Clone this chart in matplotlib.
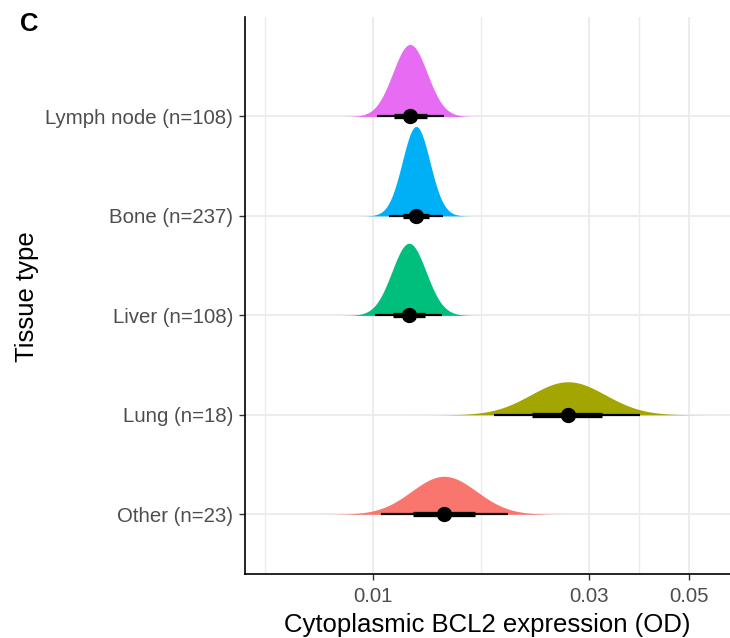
import numpy as np
import matplotlib
matplotlib.use("Agg")
import matplotlib.pyplot as plt

plt.rcParams['font.family'] = ['Liberation Sans', 'DejaVu Sans']

# Data (bottom to top)
tissues = ["Other", "Lung", "Liver", "Bone", "Lymph node"]
n_cases = [23, 18, 108, 237, 108]
medians = [0.01435, 0.02696, 0.01201, 0.01245, 0.01207]
lo66 = [0.01226, 0.02245, 0.01107, 0.01165, 0.01113]
hi66 = [0.01680, 0.03206, 0.01303, 0.01330, 0.01316]
lo95 = [0.01041, 0.01850, 0.01010, 0.01085, 0.01020]
hi95 = [0.01987, 0.03888, 0.01420, 0.01428, 0.01435]
colors = ["#F8766D", "#A3A500", "#00BF7D", "#00B0F6", "#E76BF3"]
xticks = [0.01, 0.03, 0.05]
xticklabels = ["0.01", "0.03", "0.05"]
minor_grid = [0.00577, 0.01732, 0.03873]

fig = plt.figure(figsize=(7.30, 6.38), dpi=100)
ax = fig.add_axes([245/730, 1-574/638, (730-245)/730, (574-17)/638])
ax.set_xscale('log')
ax.set_xlim(10**(-2.2827), 10**(-1.2114))
ax.set_ylim(0.4, 6.0)

# grid
for g in minor_grid:
    ax.axvline(g, color='#EBEBEB', lw=1.0, zorder=0)
for g in xticks:
    ax.axvline(g, color='#EBEBEB', lw=1.3, zorder=0)
for i in range(len(tissues)):
    ax.axhline(i + 1, color='#EBEBEB', lw=1.3, zorder=0)

# slabs: densities in log10 space from intervals
mus = np.log10(medians)
sds = (np.log10(hi95) - np.log10(lo95)) / 3.92
peaks = 1 / (sds * np.sqrt(2 * np.pi))
scale = 0.9 / peaks.max()
for i, (mu, sd, c) in enumerate(zip(mus, sds, colors)):
    lx = np.linspace(mu - 4.2 * sd, mu + 4.2 * sd, 400)
    dens = np.exp(-0.5 * ((lx - mu) / sd) ** 2) / (sd * np.sqrt(2 * np.pi))
    y0 = i + 1
    ax.fill_between(10 ** lx, y0, y0 + dens * scale, color=c, lw=0, zorder=2)
    ax.plot([lo95[i], hi95[i]], [y0, y0], color='black', lw=1.6, solid_capstyle='butt', zorder=3)
    ax.plot([lo66[i], hi66[i]], [y0, y0], color='black', lw=3.8, solid_capstyle='butt', zorder=4)
    ax.plot([medians[i]], [y0], 'o', color='black', ms=10, zorder=5)

ax.set_yticks(range(1, len(tissues) + 1))
ax.set_yticklabels([f"{t} (n={n})" for t, n in zip(tissues, n_cases)])
ax.set_xticks(xticks)
ax.set_xticklabels(xticklabels)
ax.xaxis.set_minor_locator(matplotlib.ticker.NullLocator())
ax.tick_params(axis='both', which='major', labelsize=14.7, labelcolor='#4D4D4D',
               color='#333333', length=4.5, width=1.0)
ax.tick_params(axis='x', pad=5)
ax.tick_params(axis='y', pad=4)

for s in ['top', 'right']:
    ax.spines[s].set_visible(False)
for s in ['left', 'bottom']:
    ax.spines[s].set_linewidth(1.2)
    ax.spines[s].set_color('black')

ax.set_xlabel("Cytoplasmic BCL2 expression (OD)", fontsize=18.5, labelpad=5)
fig.text(27/730, 1-297/638, "Tissue type", rotation=90, ha='center', va='center', fontsize=18.5)
fig.text(20/730, 1-24/638, "C", fontsize=18.5, fontweight='bold', ha='left', va='center')

fig.savefig("out.png", dpi=100)
